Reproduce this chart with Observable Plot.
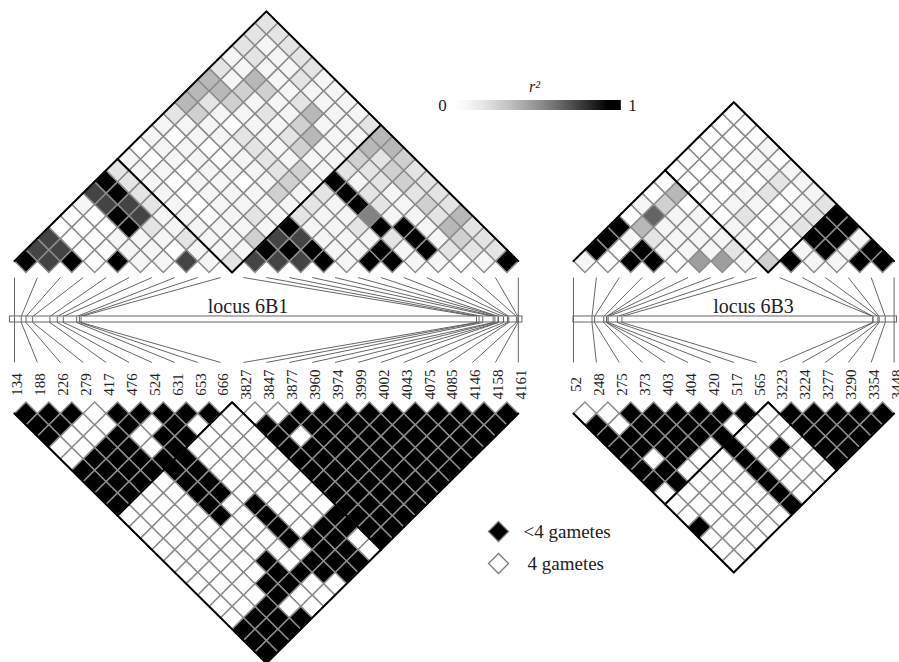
<!DOCTYPE html>
<html><head><meta charset="utf-8">
<script src="https://cdn.jsdelivr.net/npm/d3@7"></script>
<script src="https://cdn.jsdelivr.net/npm/@observablehq/plot@0.6"></script>
<style>html,body{margin:0;padding:0;background:#fff}</style>
</head><body><div id="chart"></div>
<script>
// ---------------- data ----------------
const markers6B1 = [134,188,226,279,417,476,524,631,653,666,3827,3847,3877,3960,3974,3999,4002,4043,4075,4085,4146,4158,4161];
const markers6B3 = [52,248,275,373,403,404,420,517,565,3223,3224,3277,3290,3354,3448];
const split6B1 = 10;   // first marker of the second cluster
const split6B3 = 9;

// r2 in tenths; row k = pairs (i, i+k+1)
const r2_6B1 = [
  [10,8,10,0,10,1,1,8,1,2,8,8,8,10,1,10,10,1,1,0,1,10],
  [8,8,0,0,1,1,0,1,1,1,10,10,10,1,1,10,1,10,2,2,2],
  [8,0,0,1,1,1,2,1,1,3,8,8,1,1,1,2,10,1,3,2],
  [0,0,0,10,2,1,1,1,1,1,10,1,1,2,10,10,1,4,2],
  [0,0,10,8,1,1,0,1,2,1,2,1,1,6,1,1,2,4],
  [1,8,8,2,1,0,1,1,1,1,2,1,10,2,1,3,2],
  [8,10,2,1,0,1,1,1,3,1,2,10,2,1,2,2],
  [10,2,1,0,1,1,0,1,3,1,10,1,2,3,2],
  [2,1,1,0,1,1,1,2,3,1,2,2,3,2],
  [1,0,1,1,0,1,2,1,1,1,3,2,3],
  [0,1,1,0,1,2,1,3,1,1,4,4],
  [1,0,1,1,2,1,2,4,1,1,4],
  [1,1,1,0,1,1,3,1,1,2],
  [2,3,1,1,2,1,4,1,1],
  [4,2,3,1,1,2,1,1],
  [4,4,3,3,1,1,1],
  [4,1,4,1,2,1],
  [2,1,1,1,2],
  [1,2,1,2],
  [2,1,2],
  [2,2],
  [2]
];
// four-gamete test: 1 = <4 gametes, 0 = 4 gametes
const gam6B1 = [
  [1,1,1,0,1,1,1,1,1,0,0,0,1,1,1,1,1,1,1,1,1,1],
  [1,1,0,0,1,0,1,0,0,0,1,1,1,1,1,1,1,1,1,1,1],
  [1,0,0,1,0,1,1,0,0,0,1,0,1,1,1,1,1,1,1,1],
  [0,0,1,1,0,1,0,0,0,0,1,1,1,1,1,1,1,1,1],
  [0,1,1,1,1,1,0,0,0,0,1,1,1,1,1,1,1,1],
  [1,1,1,1,1,1,0,0,0,0,1,1,1,1,1,1,1],
  [1,1,1,0,1,1,0,0,0,0,1,1,1,1,1,1],
  [1,1,0,0,1,1,0,0,0,0,1,1,1,1,1],
  [1,0,0,0,1,0,1,0,0,0,1,1,1,1],
  [0,0,0,0,1,0,1,0,0,1,1,1,1],
  [0,0,0,0,0,0,1,0,1,1,1,1],
  [0,0,0,0,0,0,1,1,1,0,1],
  [0,0,0,0,0,0,0,1,1,0],
  [0,0,0,0,1,0,1,1,1],
  [0,0,0,0,1,1,1,1],
  [0,0,0,1,1,0,0],
  [0,0,0,1,0,0],
  [0,0,1,0,0],
  [0,1,1,1],
  [1,1,1],
  [1,1],
  [1]
];
const r2_6B3 = [
  [1,0,10,10,0,5,5,1,3,10,1,1,10,10],
  [10,0,10,1,1,1,2,0,0,1,10,1,10],
  [10,1,2,1,1,1,1,0,0,10,10,1],
  [10,4,1,1,0,1,0,1,2,10,10],
  [0,7,1,1,0,2,0,1,2,10],
  [1,3,0,0,1,1,0,1,2],
  [0,4,0,0,1,2,0,1],
  [0,0,0,0,0,2,1],
  [0,0,0,0,1,1],
  [0,0,0,1,0],
  [0,0,0,1],
  [0,0,0],
  [0,0],
  [0]
];
const gam6B3 = [
  [0,0,1,1,1,1,1,1,0,1,1,1,1,1],
  [1,0,1,1,1,1,0,0,0,1,1,1,1],
  [1,1,1,1,1,1,0,0,0,1,1,1],
  [1,1,1,1,0,1,0,1,0,1,1],
  [1,0,1,0,0,1,0,0,0,1],
  [1,1,0,0,0,1,0,0,0],
  [1,1,0,0,0,1,0,0],
  [0,0,0,0,0,1,0],
  [0,0,0,0,0,1],
  [0,0,0,0,0],
  [1,0,0,0],
  [0,0,0],
  [0,0],
  [0]
];
const locusNames = ["locus 6B1", "locus 6B3"];
const rampTicks = ["0", "1"];
const rampTitle = "r²";
const gameteLegend = [{label: "<4 gametes", value: 1}, {label: "4 gametes", value: 0}];

// ---------------- layout (chart units: x = one cell width, y = half a cell height) ----------------
const CELL = 22.9, HALF = 11.35, X0 = 14, W = 899, H = 662;
const yTop = 22.96, yBot = 36.39;
const yLineA = 24.41, yBarTop = 27.84, yBarBot = 28.37, yLineB = 31.89, yLabel = 33.83, yName = 27.55;

const loci = [
  {name: locusNames[0], markers: markers6B1, split: split6B1, r2: r2_6B1, gam: gam6B1, off: 0, nameAt: 10.2, bar: [-0.2, 22.18]},
  {name: locusNames[1], markers: markers6B3, split: split6B3, r2: r2_6B3, gam: gam6B3, off: 24.41, nameAt: 7.86, bar: [0, 14.13]}
];

const cells = [], outlines = [], links = [], ticks = [], labels = [], bars = [], names = [];
loci.forEach((L, li) => {
  const n = L.markers.length, o = L.off;
  L.r2.forEach((row, k) => row.forEach((v, i) => {
    const d = k + 1;
    cells.push({x: o + (2 * i + d) / 2, y: yTop - (d - 1), v: v / 10});
  }));
  L.gam.forEach((row, k) => row.forEach((v, i) => {
    const d = k + 1;
    cells.push({x: o + (2 * i + d) / 2, y: yBot + (d - 1), v});
  }));
  const s = L.split;
  outlines.push(
    {id: li + "a", x: o, y: yTop}, {id: li + "a", x: o + (n - 1) / 2, y: yTop - (n - 1)}, {id: li + "a", x: o + n - 1, y: yTop},
    {id: li + "b", x: o + (s - 1) / 2, y: yTop - (s - 1)}, {id: li + "b", x: o + s - 0.5, y: yTop + 1}, {id: li + "b", x: o + (s + n - 1) / 2, y: yTop - (n - 1 - s)},
    {id: li + "c", x: o, y: yBot}, {id: li + "c", x: o + (n - 1) / 2, y: yBot + (n - 1)}, {id: li + "c", x: o + n - 1, y: yBot},
    {id: li + "d", x: o + (s - 1) / 2, y: yBot + (s - 1)}, {id: li + "d", x: o + s - 0.5, y: yBot - 1}, {id: li + "d", x: o + (s + n - 1) / 2, y: yBot + (n - 1 - s)}
  );
  const pos = d3.scaleLinear().domain([L.markers[0], L.markers[n - 1]]).range([o, o + n - 1]);
  L.markers.forEach((m, i) => {
    const b = pos(m);
    links.push({x1: o + i, y1: yLineA, x2: b, y2: yBarTop});
    links.push({x1: b, y1: yBarBot, x2: o + i, y2: yLineB});
    ticks.push({x: b});
    labels.push({x: o + i, text: String(m)});
  });
  bars.push({x1: o + L.bar[0], x2: o + L.bar[1]});
  names.push({x: o + L.nameAt, text: L.name});
});

// legends
const px2x = p => (p - X0) / CELL, px2y = p => p / HALF;
const rampX1 = px2x(452), rampX2 = px2x(620), rampY1 = px2y(100), rampY2 = px2y(110);
const rampSteps = d3.range(0, 1, 1 / 120);
const ramp = rampSteps.map(t => ({x1: rampX1 + t * (rampX2 - rampX1), x2: rampX1 + (t + 1.6 / 120) * (rampX2 - rampX1), v: Math.min(1, t * 1.08)}));
const rampLabels = rampTicks.map((t, i) => ({text: t, x: i === 0 ? px2x(442) : px2x(632), y: px2y(105)}));
const gLegend = gameteLegend.map((g, i) => ({...g, x: px2x(498), tx: px2x(i === 0 ? 523 : 527), y: px2y(531 + i * 32)}));

const diamond = {
  draw(context, size) {
    const r = Math.sqrt(size / Math.PI);
    context.moveTo(0, -r); context.lineTo(r, 0); context.lineTo(0, r); context.lineTo(-r, 0); context.closePath();
  }
};

const font = "Liberation Serif";
const chart = Plot.plot({
  width: W, height: H, margin: 0,
  style: {background: "white", fontFamily: font},
  x: {domain: [px2x(0), px2x(W)], range: [0, W], axis: null},
  y: {domain: [0, px2y(H)], range: [0, H], axis: null},
  color: {type: "pow", exponent: 1.4, domain: [0, 1], range: ["#ffffff", "#000000"], interpolate: "rgb"},
  marks: [
    Plot.dot(cells, {x: "x", y: "y", r: CELL / 2, symbol: diamond, fill: "v", stroke: "#8c8c8c", strokeWidth: 1.5}),
    Plot.line(outlines, {x: "x", y: "y", z: "id", stroke: "black", strokeWidth: 2, curve: "linear"}),
    Plot.link(links, {x1: "x1", y1: "y1", x2: "x2", y2: "y2", stroke: "#555", strokeWidth: 0.9}),
    Plot.rect(bars, {x1: "x1", x2: "x2", y1: () => yBarTop, y2: () => yBarBot, fill: "white", stroke: "#555", strokeWidth: 0.9}),
    Plot.link(ticks, {x1: "x", x2: "x", y1: () => yBarTop, y2: () => yBarBot, stroke: "#555", strokeWidth: 0.9}),
    Plot.text(labels, {x: "x", y: () => yLabel, text: "text", rotate: -90, dx: 3, fontSize: 15, fontFamily: font, fill: "#222"}),
    Plot.text(names, {x: "x", y: () => yName, text: "text", lineAnchor: "bottom", fontSize: 20, fontFamily: font, fill: "#222"}),
    Plot.rect(ramp, {x1: "x1", x2: "x2", y1: () => rampY1, y2: () => rampY2, fill: "v"}),
    Plot.text(rampLabels, {x: "x", y: "y", text: "text", fontSize: 17, fontFamily: font, fill: "#222"}),
    Plot.text([rampTitle], {x: () => px2x(534), y: () => px2y(86), text: d => d, fontSize: 16, fontStyle: "italic", fontFamily: font, fill: "#222"}),
    Plot.dot(gLegend, {x: "x", y: "y", r: 10, symbol: diamond, fill: "value", stroke: "#777", strokeWidth: 1.3}),
    Plot.text(gLegend, {x: "tx", y: "y", text: "label", textAnchor: "start", fontSize: 19, fontFamily: font, fill: "#222"})
  ]
});
document.getElementById("chart").appendChild(chart);
</script>
</body></html>
